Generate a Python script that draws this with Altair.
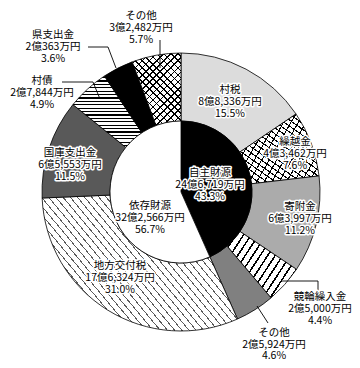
import math
import altair as alt
import pandas as pd

# ---------------- data ----------------
outer_names = ["村税", "繰越金", "寄附金", "競輪繰入金", "その他",
               "地方交付税", "国庫支出金", "村債", "県支出金", "その他"]
outer_amounts = [88336, 43462, 63997, 25000, 25924,
                 176324, 65553, 27844, 20363, 32482]  # 万円
outer_amount_text = ["8億8,336万円", "4億3,462万円", "6億3,997万円", "2億5,000万円", "2億5,924万円",
                     "17億6,324万円", "6億5,553万円", "2億7,844万円", "2億363万円", "3億2,482万円"]
outer_pct_text = ["15.5%", "7.6%", "11.2%", "4.4%", "4.6%",
                  "31.0%", "11.5%", "4.9%", "3.6%", "5.7%"]

inner_names = ["自主財源", "依存財源"]
inner_amounts = [246719, 322566]
inner_amount_text = ["24億6,719万円", "32億2,566万円"]
inner_pct_text = ["43.3%", "56.7%"]

# ---------------- layout / style ----------------
FONT = "Noto Sans CJK JP"
CX, CY = 173, 184
R_OUT, R_IN = 139, 71

# first-line positions of each label block (chart pixels)
outer_label_xy = [(222, 82), (287, 134), (292, 199), (312, 289), (266, 325),
                  (112, 258), (62, 145), (34, 73), (45, 27), (133, 8)]
inner_label_xy = [(202, 165), (142, 198)]
label_line_height = [12, 12, 12, 12, 11.5, 12, 12, 12, 12, 12, 12, 12]

leaders = [  # (group, points)
    ("a", [(152, 32), (152, 60)]),
    ("b", [(80, 39), (100, 39), (108, 60)]),
    ("c", [(54, 74), (85, 74), (92, 91)]),
    ("d", [(274, 273), (310, 273), (310, 283)]),
    ("e", [(249, 298), (260, 315)]),
]

outer_df = pd.DataFrame({"k": list(range(len(outer_names))), "name": outer_names,
                         "amount": outer_amounts})
inner_df = pd.DataFrame({"k": [0, 1], "name": inner_names, "amount": inner_amounts})

total = sum(outer_amounts)
bounds = []
acc = 0
for a in outer_amounts:
    bounds.append((acc / total * 2 * math.pi, (acc + a) / total * 2 * math.pi))
    acc += a


def seg_bbox(a0, a1):
    xs, ys = [], []
    for j in range(401):
        t = a0 + (a1 - a0) * j / 400
        for r in (R_IN, R_OUT):
            xs.append(r * math.sin(t))
            ys.append(-r * math.cos(t))
    return max(xs) - min(xs), max(ys) - min(ys)


def stripes(i, phi_deg, period, lw, color, bg):
    W, H = seg_bbox(*bounds[i])
    phi = math.radians(phi_deg)
    nx, ny = -math.sin(phi), math.cos(phi)
    E = W * abs(nx) + H * abs(ny)
    k = E / (W * W * nx * nx + H * H * ny * ny)
    dx, dy = k * W * nx, k * H * ny
    n = max(1, round(E / period))
    f = lw / period
    stops = [alt.GradientStop(offset=0, color=bg)]
    for m in range(n):
        p0 = round((m + 0.5 - f / 2) / n, 5)
        p1 = round((m + 0.5 + f / 2) / n, 5)
        stops += [alt.GradientStop(offset=p0, color=bg),
                  alt.GradientStop(offset=p0, color=color),
                  alt.GradientStop(offset=p1, color=color),
                  alt.GradientStop(offset=p1, color=bg)]
    stops.append(alt.GradientStop(offset=1, color=bg))
    return alt.LinearGradient(gradient="linear", stops=stops,
                              x1=0.5 - dx / 2, y1=0.5 - dy / 2,
                              x2=0.5 + dx / 2, y2=0.5 + dy / 2)


CLEAR = "rgba(255,255,255,0)"
fills = [
    [("#dcdcdc", True)],
    [(stripes(1, 35, 5.0, 1.1, "black", "white"), True),
     (stripes(1, -60, 6.5, 1.0, "black", CLEAR), False)],
    [("#ababab", True)],
    [(stripes(3, -57, 6.5, 1.6, "black", "white"), True)],
    [("#808080", True)],
    [(stripes(5, 50, 5.5, 0.9, "#5a5a5a", "white"), True)],
    [("#595959", True)],
    [(stripes(7, 0, 3.4, 1.2, "black", "white"), True)],
    [("black", True)],
    [(stripes(9, 45, 5.0, 1.1, "black", "white"), True),
     (stripes(9, -45, 5.0, 1.1, "black", CLEAR), False)],
]

layers = []
for i, specs in enumerate(fills):
    for fill, stroked in specs:
        mk = dict(outerRadius=R_OUT, innerRadius=R_IN, fill=fill)
        if stroked:
            mk.update(stroke="black", strokeWidth=0.8)
        else:
            mk.update(strokeWidth=0)
        layers.append(
            alt.Chart(outer_df).mark_arc(**mk).encode(
                theta=alt.Theta("amount:Q", stack=True),
                order=alt.Order("k:Q"),
                x=alt.value(CX), y=alt.value(CY),
                opacity=alt.condition(f"datum.k == {i}", alt.value(1), alt.value(0)),
            )
        )

inner = alt.Chart(inner_df).mark_arc(outerRadius=R_IN, innerRadius=0,
                                     stroke="black", strokeWidth=0.8).encode(
    theta=alt.Theta("amount:Q", stack=True),
    order=alt.Order("k:Q"),
    x=alt.value(CX), y=alt.value(CY),
    fill=alt.Fill("name:N", scale=alt.Scale(domain=inner_names, range=["black", "white"]),
                  legend=None),
)
layers.append(inner)

lead_rows = []
for g, pts in leaders:
    for o, (x, y) in enumerate(pts):
        lead_rows.append({"g": g, "o": o, "x": x, "y": y})
lead_df = pd.DataFrame(lead_rows)
layers.append(
    alt.Chart(lead_df).mark_line(color="black", strokeWidth=0.9).encode(
        x=alt.X("x:Q", scale=None, axis=None),
        y=alt.Y("y:Q", scale=None, axis=None),
        detail="g:N", order="o:Q")
)

texts = [f"{n}\n{a}\n{p}" for n, a, p in zip(outer_names, outer_amount_text, outer_pct_text)]
texts += [f"{n}\n{a}\n{p}" for n, a, p in zip(inner_names, inner_amount_text, inner_pct_text)]
xy = outer_label_xy + inner_label_xy
lab_df = pd.DataFrame({"t": texts, "x": [p[0] for p in xy], "y": [p[1] for p in xy],
                       "lh": label_line_height})

common = dict(font=FONT, fontSize=10.5, lineBreak="\n",
              align="center", baseline="middle")
enc = dict(x=alt.X("x:Q", scale=None, axis=None), y=alt.Y("y:Q", scale=None, axis=None),
           text="t:N")
for lh in sorted(set(label_line_height)):
    sub = lab_df[lab_df["lh"] == lh]
    layers.append(alt.Chart(sub).mark_text(fill="white", stroke="white", strokeWidth=3,
                                           strokeJoin="round", lineHeight=lh,
                                           **common).encode(**enc))
for lh in sorted(set(label_line_height)):
    sub = lab_df[lab_df["lh"] == lh]
    layers.append(alt.Chart(sub).mark_text(fill="black", lineHeight=lh,
                                           **common).encode(**enc))

chart = alt.layer(*layers).properties(
    width=344, height=352, padding=0, autosize="none"
).configure_view(stroke=None)

chart.save("out.html", embed_options={"renderer": "svg", "actions": False})
